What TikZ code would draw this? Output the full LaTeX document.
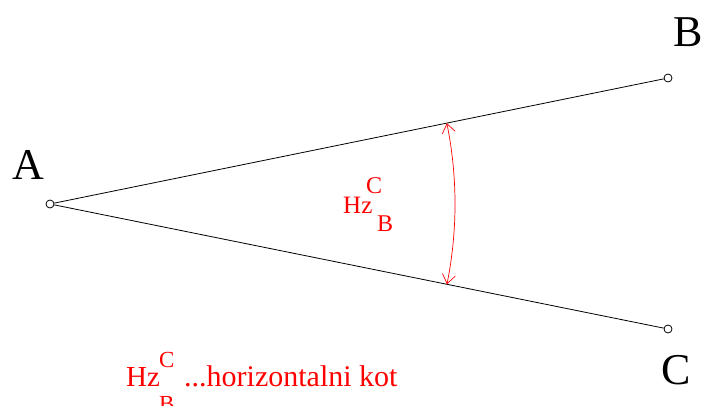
\documentclass[tikz,border=0pt]{standalone}
\usepackage{fontspec}
\setmainfont{Liberation Serif}
\usetikzlibrary{arrows.meta,calc}
\begin{document}
\begin{tikzpicture}[x=1pt,y=1pt,
  pt/.style={circle,draw=black,line width=0.8pt,minimum size=8pt,inner sep=0pt,fill=white},
  big/.style={inner sep=0pt,anchor=base west,font=\fontsize{44}{48}\selectfont},
  redt/.style={inner sep=0pt,anchor=base west,text=red},
  ln/.style={line width=0.8pt,black}]
\useasboundingbox (0,0) rectangle (703,405);
\clip (0,0) rectangle (703,405);
\node[pt] (A) at (50,201) {};
\node[pt] (B) at (668,327) {};
\node[pt] (C) at (668,76) {};
\draw[ln] (A) -- (B);
\draw[ln] (A) -- (C);
\coordinate (Ac) at (50,201);
\draw[red,line width=0.7pt,{Straight Barb[length=9pt,width=13pt]}-{Straight Barb[length=9pt,width=13pt]}]
  ($(Ac)!405pt!(668,76)$) arc[start angle=-11.43,end angle=11.52,radius=405pt];
\node[big] (lA) at (12,226) {A};
\node[big] (lB) at (673,358) {B};
\node[big] (lC) at (661,21) {C};
\node[redt,font=\fontsize{25}{28}\selectfont] (hz1) at (343,192) {Hz};
\node[redt,font=\fontsize{24}{28}\selectfont] (c1) at (366,212) {C};
\node[redt,font=\fontsize{24}{28}\selectfont] (b1) at (377,174) {B};
\node[redt,font=\fontsize{29}{32}\selectfont] (hz2) at (126,19) {Hz};
\node[redt,font=\fontsize{23}{28}\selectfont] (c2) at (159,38) {C};
\node[redt,font=\fontsize{23}{28}\selectfont] (b2) at (159,-6) {B};
\node[redt,font=\fontsize{30}{32}\selectfont] (t2) at (184,19) {...horizontalni kot};
\end{tikzpicture}
\end{document}
